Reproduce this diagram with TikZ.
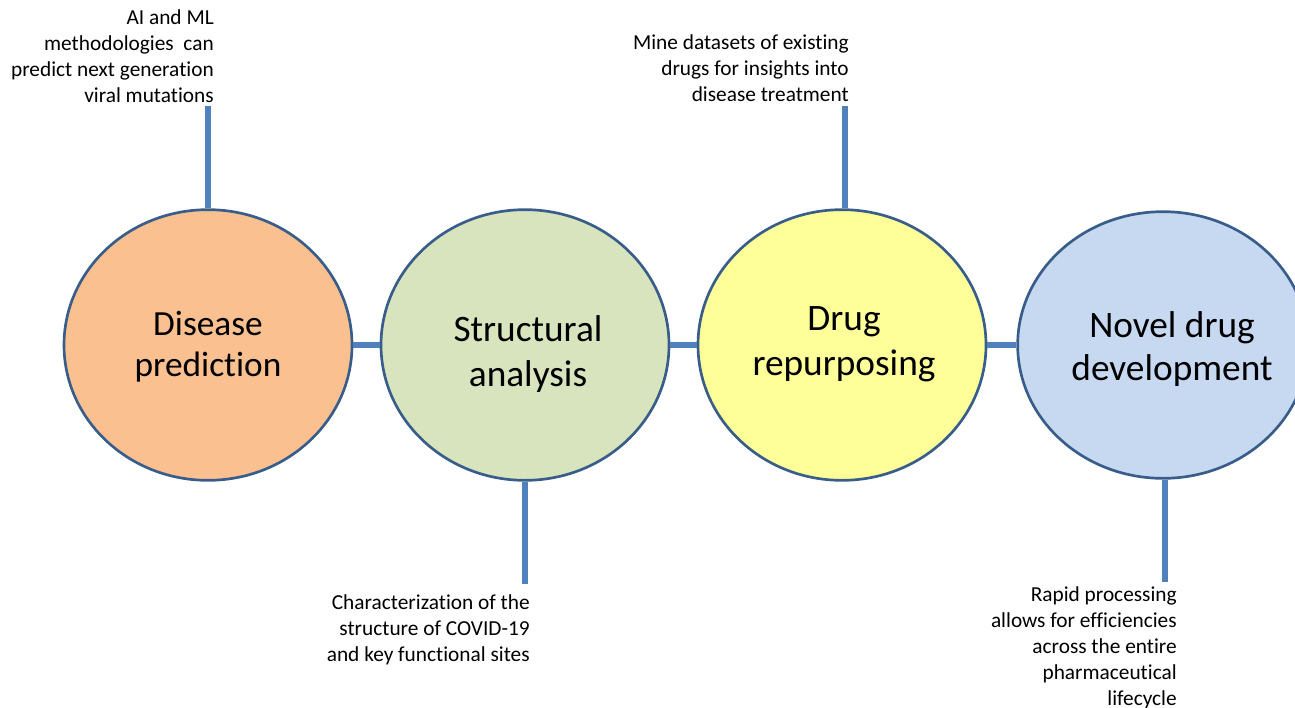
\documentclass[tikz,border=0pt]{standalone}
\usepackage{fontspec}
\setmainfont{Carlito}[Ligatures=CommonOff]
\usepackage{tikz}
\usetikzlibrary{shapes.geometric, positioning, calc}
\definecolor{linkblue}{HTML}{4F81BD}
\definecolor{rimblue}{HTML}{385D8A}
\definecolor{stageorange}{HTML}{FAC090}
\definecolor{stagegreen}{HTML}{D7E4BD}
\definecolor{stageyellow}{HTML}{FFFF99}
\definecolor{stageblue}{HTML}{C6D9F1}

\begin{document}
\begin{tikzpicture}[x=0.75pt, y=-0.75pt,
		stage/.style={ellipse, draw=rimblue, line width=2pt, minimum width=216pt, minimum height=203pt, inner sep=0pt},
		title/.style={inner sep=0pt, align=center, font=\fontsize{28}{34}\selectfont},
		note/.style={inner sep=0pt, align=right, font=\fontsize{16}{19.5}\selectfont},
		link/.style={linkblue, line width=5pt}]
				\useasboundingbox (0,0) rectangle (1295,707);
				%% the four stages
				\node[stage, fill=stageorange] (dp) at (208,345) {};
				\node[stage, fill=stagegreen] (sa) at (525,345) {};
				\node[stage, fill=stageyellow] (dr) at (842,345) {};
				\node[stage, fill=stageblue, minimum width=218pt, minimum height=200pt] (nd) at (1163,345) {};
				
				\node[title, font=\fontsize{26.5}{31}\selectfont] (dpt) at ([shift={(0,2)}]dp.center) {Disease\\prediction};
				\node[title] (sat) at ([shift={(3,9)}]sa.center) {Structural\\analysis};
				\node[title] (drt) at ([shift={(2,-1)}]dr.center) {Drug\\repurposing};
				\node[title, font=\fontsize{28}{32.5}\selectfont] (ndt) at ([shift={(9,4)}]nd.center) {Novel drug\\development};
				
				%% notes
				\node[note, anchor=north east] (ml) at (214,9) {AI and ML\\methodologies~~can\\predict~next generation\\viral mutations};
				\node[note, anchor=north east] (mine) at (849,34) {Mine datasets of existing\\drugs for insights into\\disease treatment};
				\node[note, anchor=north east] (chr) at (530,594) {Characterization of the\\structure of COVID-19\\and key functional sites};
				\node[note, anchor=north east] (rapid) at (1177,586) {Rapid processing\\allows for efficiencies\\across the entire\\pharmaceutical\\lifecycle};
				
				%% connectors
				\draw[link] (dp.east) -- (sa.west);
				\draw[link] (sa.east) -- (dr.west);
				\draw[link] (dr.east) -- (nd.west);
				\draw[link] (dp.north) -- ++(0,-102);
				\draw[link] (sa.south) -- ++(0,102);
				\draw[link] ($(dr.north)+(3,0)$) -- ++(0,-102);
				\draw[link] ($(nd.south)+(2,0)$) -- ++(0,102);
\end{tikzpicture}
\end{document}
